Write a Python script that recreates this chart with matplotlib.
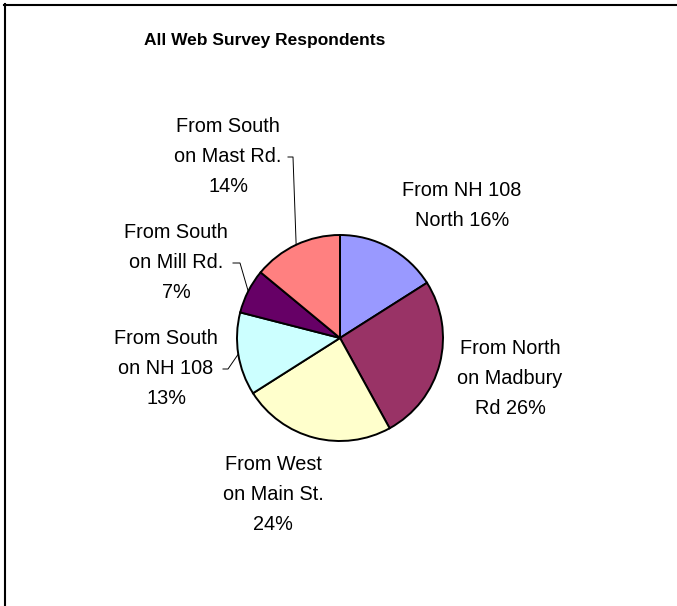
import matplotlib
matplotlib.use("Agg")
import matplotlib.pyplot as plt
from matplotlib.lines import Line2D
import numpy as np

# ---- data ----
title = "All Web Survey Respondents"
label_templates = [
    "From NH 108\nNorth {p}%",
    "From North\non Madbury\nRd {p}%",
    "From West\non Main St.\n{p}%",
    "From South\non NH 108\n{p}%",
    "From South\non Mill Rd.\n{p}%",
    "From South\non Mast Rd.\n{p}%",
]
values = [16, 26, 24, 13, 7, 14]
colors = ["#9999FF", "#993366", "#FFFFCC", "#CCFFFF", "#660066", "#FF8080"]

# ---- layout (pixel coordinates, y measured from top) ----
W, H = 677, 606
pie_cx, pie_cy, pie_r = 340, 338, 103
label_centers = [(462, 206), (510, 378), (273, 494), (166, 368), (176, 262), (228, 156)]
line_step = 30
# leader lines: (index, start x, start y, tick length)
leaders = [(5, 288, 157, 5), (4, 233, 263, 7), (3, 223, 369, 5)]

plt.rcParams['font.family'] = ['Liberation Sans', 'DejaVu Sans']

fig = plt.figure(figsize=(W / 100, H / 100), dpi=100)
ax = fig.add_axes([0, 0, 1, 1])


def Y(yp):
    return H - yp


ax.pie(values, colors=colors, startangle=90, counterclock=False,
       center=(pie_cx, Y(pie_cy)), radius=pie_r,
       wedgeprops=dict(edgecolor="black", linewidth=1.4))
ax.set_xlim(0, W)
ax.set_ylim(0, H)
ax.set_aspect("equal")
ax.axis("off")

# labels
for tmpl, v, (lx, ly) in zip(label_templates, values, label_centers):
    lines = tmpl.format(p=v).split("\n")
    n = len(lines)
    for i, s in enumerate(lines):
        yy = ly + (i - (n - 1) / 2) * line_step
        ax.text(lx, Y(yy), s, ha="center", va="center", fontsize=14.3, color="black")

# leader lines to slice mid-points on the rim
total = sum(values)
cum = np.concatenate([[0], np.cumsum(values)])
for idx, sx, sy, tick in leaders:
    th = np.deg2rad(360 * (cum[idx] + values[idx] / 2) / total)
    ex = pie_cx + pie_r * np.sin(th)
    ey = pie_cy - pie_r * np.cos(th)
    ax.plot([sx, sx + tick, ex], [Y(sy), Y(sy), Y(ey)], color="black", lw=0.7)

# title
ax.text(265, Y(40), title, ha="center", va="center", fontsize=12.5,
        fontweight="bold", color="black")

# outer frame (only top and left visible)
fig.add_artist(Line2D([3.5 / W, 1], [1 - 5 / H, 1 - 5 / H], transform=fig.transFigure,
                      color="black", lw=1.5))
fig.add_artist(Line2D([4.5 / W, 4.5 / W], [1 - 4 / H, 0], transform=fig.transFigure,
                      color="black", lw=1.5))

fig.savefig("out.png", dpi=100)
